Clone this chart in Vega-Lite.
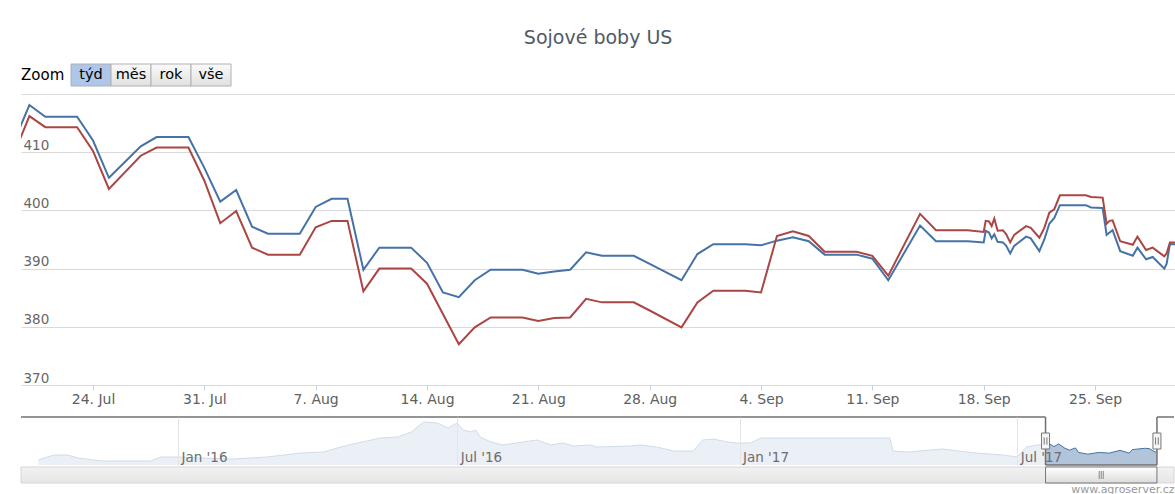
{
  "$schema": "https://vega.github.io/schema/vega-lite/v6.json",
  "background": "white",
  "padding": {"left": 20, "top": 28, "right": 0, "bottom": 0},
  "title": {"text": "Sojové boby US", "anchor": "middle", "fontSize": 19, "font": "DejaVu Sans", "fontWeight": "normal", "color": "#505a66", "baseline": "alphabetic", "offset": 1},
  "config": {"view": {"stroke": null}, "font": "DejaVu Sans", "axis": {"labelFont": "DejaVu Sans", "titleFont": "DejaVu Sans"}},
  "spacing": 7,
  "datasets": {
    "buttons": [
      {"label": "týd", "selected": true},
      {"label": "měs", "selected": false},
      {"label": "rok", "selected": false},
      {"label": "vše", "selected": false}
    ],
    "zoomrange": [{"start": "2017-07-19T11:20", "end": "2017-09-30T02:10", "grip": "2017-08-24T18:45"}],
    "outside": [
      {"from": "2015-09-20T16:00", "to": "2017-07-19T11:20"},
      {"from": "2017-09-30T02:10", "to": "2017-10-11T05:00"}
    ],
    "edges": [{"t": "2017-07-19T11:20"}, {"t": "2017-09-30T02:10"}],
    "history": [
      {"t": "2015-10-02T00:00", "v": 369.4}, {"t": "2015-10-12T00:00", "v": 382.9}, {"t": "2015-10-21T00:00", "v": 382.9},
      {"t": "2015-10-28T00:00", "v": 374.8}, {"t": "2015-11-12T00:00", "v": 366.7}, {"t": "2015-12-14T00:00", "v": 366.7},
      {"t": "2015-12-21T00:00", "v": 377.5}, {"t": "2016-01-01T00:00", "v": 377.5}, {"t": "2016-01-16T00:00", "v": 374.8},
      {"t": "2016-02-06T00:00", "v": 372.1}, {"t": "2016-02-28T00:00", "v": 377.5}, {"t": "2016-03-10T00:00", "v": 382.9},
      {"t": "2016-03-21T00:00", "v": 388.3}, {"t": "2016-04-05T00:00", "v": 391.0}, {"t": "2016-04-16T00:00", "v": 404.5},
      {"t": "2016-04-27T00:00", "v": 415.3}, {"t": "2016-05-12T00:00", "v": 428.8}, {"t": "2016-05-23T00:00", "v": 431.5},
      {"t": "2016-06-01T00:00", "v": 445.0}, {"t": "2016-06-09T00:00", "v": 472.0}, {"t": "2016-06-18T00:00", "v": 469.3},
      {"t": "2016-06-25T00:00", "v": 455.8}, {"t": "2016-07-01T00:00", "v": 469.3}, {"t": "2016-07-05T00:00", "v": 450.4},
      {"t": "2016-07-10T00:00", "v": 445.0}, {"t": "2016-07-13T00:00", "v": 450.4}, {"t": "2016-07-16T00:00", "v": 431.5},
      {"t": "2016-07-23T00:00", "v": 418.0}, {"t": "2016-07-31T00:00", "v": 409.9}, {"t": "2016-08-13T00:00", "v": 418.0},
      {"t": "2016-08-22T00:00", "v": 423.4}, {"t": "2016-08-31T00:00", "v": 409.9}, {"t": "2016-09-08T00:00", "v": 415.3},
      {"t": "2016-09-15T00:00", "v": 407.2}, {"t": "2016-09-26T00:00", "v": 409.9}, {"t": "2016-09-30T00:00", "v": 404.5},
      {"t": "2016-10-22T00:00", "v": 407.2}, {"t": "2016-10-28T00:00", "v": 409.9}, {"t": "2016-11-08T00:00", "v": 404.5},
      {"t": "2016-11-19T00:00", "v": 393.7}, {"t": "2016-12-02T00:00", "v": 393.7}, {"t": "2016-12-08T00:00", "v": 423.4},
      {"t": "2016-12-15T00:00", "v": 426.1}, {"t": "2016-12-24T00:00", "v": 418.0}, {"t": "2016-12-31T00:00", "v": 415.3},
      {"t": "2017-01-08T00:00", "v": 415.3}, {"t": "2017-01-15T00:00", "v": 428.8}, {"t": "2017-04-03T00:00", "v": 428.8},
      {"t": "2017-04-09T00:00", "v": 428.8}, {"t": "2017-04-11T00:00", "v": 393.7}, {"t": "2017-04-21T00:00", "v": 391.0},
      {"t": "2017-05-13T00:00", "v": 399.1}, {"t": "2017-06-04T00:00", "v": 388.3}, {"t": "2017-06-22T00:00", "v": 382.9},
      {"t": "2017-07-01T00:00", "v": 377.5}, {"t": "2017-07-07T00:00", "v": 404.5}, {"t": "2017-07-14T00:00", "v": 409.9},
      {"t": "2017-07-19T00:00", "v": 411.6}, {"t": "2017-07-20T00:00", "v": 418.1}, {"t": "2017-07-25T00:00", "v": 405.6},
      {"t": "2017-07-28T00:00", "v": 412.6}, {"t": "2017-08-01T00:00", "v": 401.5}, {"t": "2017-08-04T00:00", "v": 396.0},
      {"t": "2017-08-08T00:00", "v": 402.0}, {"t": "2017-08-10T00:00", "v": 389.8}, {"t": "2017-08-16T00:00", "v": 385.1},
      {"t": "2017-08-23T00:00", "v": 389.8}, {"t": "2017-08-30T00:00", "v": 388.0}, {"t": "2017-09-06T00:00", "v": 395.4},
      {"t": "2017-09-12T00:00", "v": 388.0}, {"t": "2017-09-14T00:00", "v": 397.4}, {"t": "2017-09-22T00:00", "v": 400.9},
      {"t": "2017-09-25T00:00", "v": 400.4}, {"t": "2017-09-29T00:00", "v": 390.8}, {"t": "2017-09-30T00:00", "v": 394.2}
    ],
    "prices": [
      {"t": "2017-07-19T00:00", "s": "A", "v": 411.6}, {"t": "2017-07-19T00:00", "s": "B", "v": 409.5},
      {"t": "2017-07-20T00:00", "s": "A", "v": 418.1}, {"t": "2017-07-20T00:00", "s": "B", "v": 416.2},
      {"t": "2017-07-21T00:00", "s": "A", "v": 416.1}, {"t": "2017-07-21T00:00", "s": "B", "v": 414.3},
      {"t": "2017-07-22T00:00", "s": "A", "v": 416.1}, {"t": "2017-07-22T00:00", "s": "B", "v": 414.3},
      {"t": "2017-07-23T00:00", "s": "A", "v": 416.1}, {"t": "2017-07-23T00:00", "s": "B", "v": 414.3},
      {"t": "2017-07-24T00:00", "s": "A", "v": 412.0}, {"t": "2017-07-24T00:00", "s": "B", "v": 410.2},
      {"t": "2017-07-25T00:00", "s": "A", "v": 405.6}, {"t": "2017-07-25T00:00", "s": "B", "v": 403.7},
      {"t": "2017-07-27T00:00", "s": "A", "v": 411.0}, {"t": "2017-07-27T00:00", "s": "B", "v": 409.4},
      {"t": "2017-07-28T00:00", "s": "A", "v": 412.6}, {"t": "2017-07-28T00:00", "s": "B", "v": 410.8},
      {"t": "2017-07-29T00:00", "s": "A", "v": 412.6}, {"t": "2017-07-29T00:00", "s": "B", "v": 410.8},
      {"t": "2017-07-30T00:00", "s": "A", "v": 412.6}, {"t": "2017-07-30T00:00", "s": "B", "v": 410.8},
      {"t": "2017-07-31T00:00", "s": "A", "v": 407.3}, {"t": "2017-07-31T00:00", "s": "B", "v": 405.1},
      {"t": "2017-08-01T00:00", "s": "A", "v": 401.5}, {"t": "2017-08-01T00:00", "s": "B", "v": 397.8},
      {"t": "2017-08-02T00:00", "s": "A", "v": 403.5}, {"t": "2017-08-02T00:00", "s": "B", "v": 399.9},
      {"t": "2017-08-03T00:00", "s": "A", "v": 397.2}, {"t": "2017-08-03T00:00", "s": "B", "v": 393.6},
      {"t": "2017-08-04T00:00", "s": "A", "v": 396.0}, {"t": "2017-08-04T00:00", "s": "B", "v": 392.4},
      {"t": "2017-08-05T00:00", "s": "A", "v": 396.0}, {"t": "2017-08-05T00:00", "s": "B", "v": 392.4},
      {"t": "2017-08-06T00:00", "s": "A", "v": 396.0}, {"t": "2017-08-06T00:00", "s": "B", "v": 392.4},
      {"t": "2017-08-07T00:00", "s": "A", "v": 400.6}, {"t": "2017-08-07T00:00", "s": "B", "v": 397.1},
      {"t": "2017-08-08T00:00", "s": "A", "v": 402.0}, {"t": "2017-08-08T00:00", "s": "B", "v": 398.2},
      {"t": "2017-08-09T00:00", "s": "A", "v": 402.0}, {"t": "2017-08-09T00:00", "s": "B", "v": 398.2},
      {"t": "2017-08-10T00:00", "s": "A", "v": 389.8}, {"t": "2017-08-10T00:00", "s": "B", "v": 386.1},
      {"t": "2017-08-11T00:00", "s": "A", "v": 393.6}, {"t": "2017-08-11T00:00", "s": "B", "v": 390.0},
      {"t": "2017-08-12T00:00", "s": "A", "v": 393.6}, {"t": "2017-08-12T00:00", "s": "B", "v": 390.0},
      {"t": "2017-08-13T00:00", "s": "A", "v": 393.6}, {"t": "2017-08-13T00:00", "s": "B", "v": 390.0},
      {"t": "2017-08-14T00:00", "s": "A", "v": 391.0}, {"t": "2017-08-14T00:00", "s": "B", "v": 387.4},
      {"t": "2017-08-15T00:00", "s": "A", "v": 385.9}, {"t": "2017-08-15T00:00", "s": "B", "v": 382.2},
      {"t": "2017-08-16T00:00", "s": "A", "v": 385.1}, {"t": "2017-08-16T00:00", "s": "B", "v": 377.0},
      {"t": "2017-08-17T00:00", "s": "A", "v": 388.0}, {"t": "2017-08-17T00:00", "s": "B", "v": 379.9},
      {"t": "2017-08-18T00:00", "s": "A", "v": 389.8}, {"t": "2017-08-18T00:00", "s": "B", "v": 381.6},
      {"t": "2017-08-19T00:00", "s": "A", "v": 389.8}, {"t": "2017-08-19T00:00", "s": "B", "v": 381.6},
      {"t": "2017-08-20T00:00", "s": "A", "v": 389.8}, {"t": "2017-08-20T00:00", "s": "B", "v": 381.6},
      {"t": "2017-08-21T00:00", "s": "A", "v": 389.1}, {"t": "2017-08-21T00:00", "s": "B", "v": 381.0},
      {"t": "2017-08-22T00:00", "s": "A", "v": 389.5}, {"t": "2017-08-22T00:00", "s": "B", "v": 381.5},
      {"t": "2017-08-23T00:00", "s": "A", "v": 389.8}, {"t": "2017-08-23T00:00", "s": "B", "v": 381.6},
      {"t": "2017-08-24T00:00", "s": "A", "v": 392.8}, {"t": "2017-08-24T00:00", "s": "B", "v": 384.8},
      {"t": "2017-08-25T00:00", "s": "A", "v": 392.2}, {"t": "2017-08-25T00:00", "s": "B", "v": 384.2},
      {"t": "2017-08-26T00:00", "s": "A", "v": 392.2}, {"t": "2017-08-26T00:00", "s": "B", "v": 384.2},
      {"t": "2017-08-27T00:00", "s": "A", "v": 392.2}, {"t": "2017-08-27T00:00", "s": "B", "v": 384.2},
      {"t": "2017-08-28T00:00", "s": "A", "v": 390.8}, {"t": "2017-08-28T00:00", "s": "B", "v": 382.8},
      {"t": "2017-08-30T00:00", "s": "A", "v": 388.0}, {"t": "2017-08-30T00:00", "s": "B", "v": 379.9},
      {"t": "2017-08-31T00:00", "s": "A", "v": 392.5}, {"t": "2017-08-31T00:00", "s": "B", "v": 384.2},
      {"t": "2017-09-01T00:00", "s": "A", "v": 394.2}, {"t": "2017-09-01T00:00", "s": "B", "v": 386.2},
      {"t": "2017-09-02T00:00", "s": "A", "v": 394.2}, {"t": "2017-09-02T00:00", "s": "B", "v": 386.2},
      {"t": "2017-09-03T00:00", "s": "A", "v": 394.2}, {"t": "2017-09-03T00:00", "s": "B", "v": 386.2},
      {"t": "2017-09-04T00:00", "s": "A", "v": 394.0}, {"t": "2017-09-04T00:00", "s": "B", "v": 385.9},
      {"t": "2017-09-05T00:00", "s": "A", "v": 394.8}, {"t": "2017-09-05T00:00", "s": "B", "v": 395.6},
      {"t": "2017-09-06T00:00", "s": "A", "v": 395.4}, {"t": "2017-09-06T00:00", "s": "B", "v": 396.4},
      {"t": "2017-09-07T00:00", "s": "A", "v": 394.7}, {"t": "2017-09-07T00:00", "s": "B", "v": 395.6},
      {"t": "2017-09-08T00:00", "s": "A", "v": 392.4}, {"t": "2017-09-08T00:00", "s": "B", "v": 392.9},
      {"t": "2017-09-09T00:00", "s": "A", "v": 392.4}, {"t": "2017-09-09T00:00", "s": "B", "v": 392.9},
      {"t": "2017-09-10T00:00", "s": "A", "v": 392.4}, {"t": "2017-09-10T00:00", "s": "B", "v": 392.9},
      {"t": "2017-09-11T00:00", "s": "A", "v": 391.7}, {"t": "2017-09-11T00:00", "s": "B", "v": 392.2},
      {"t": "2017-09-12T00:00", "s": "A", "v": 388.0}, {"t": "2017-09-12T00:00", "s": "B", "v": 388.8},
      {"t": "2017-09-14T00:00", "s": "A", "v": 397.4}, {"t": "2017-09-14T00:00", "s": "B", "v": 399.4},
      {"t": "2017-09-15T00:00", "s": "A", "v": 394.7}, {"t": "2017-09-15T00:00", "s": "B", "v": 396.6},
      {"t": "2017-09-16T00:00", "s": "A", "v": 394.7}, {"t": "2017-09-16T00:00", "s": "B", "v": 396.6},
      {"t": "2017-09-17T00:00", "s": "A", "v": 394.7}, {"t": "2017-09-17T00:00", "s": "B", "v": 396.6},
      {"t": "2017-09-18T00:00", "s": "A", "v": 394.5}, {"t": "2017-09-18T00:00", "s": "B", "v": 396.3},
      {"t": "2017-09-18T03:00", "s": "A", "v": 396.5}, {"t": "2017-09-18T03:00", "s": "B", "v": 398.2},
      {"t": "2017-09-18T08:00", "s": "A", "v": 396.2}, {"t": "2017-09-18T08:00", "s": "B", "v": 398.1},
      {"t": "2017-09-18T12:00", "s": "A", "v": 395.2}, {"t": "2017-09-18T12:00", "s": "B", "v": 397.3},
      {"t": "2017-09-18T16:00", "s": "A", "v": 395.9}, {"t": "2017-09-18T16:00", "s": "B", "v": 398.6},
      {"t": "2017-09-18T21:00", "s": "A", "v": 394.6}, {"t": "2017-09-18T21:00", "s": "B", "v": 396.5},
      {"t": "2017-09-19T05:00", "s": "A", "v": 394.5}, {"t": "2017-09-19T05:00", "s": "B", "v": 396.6},
      {"t": "2017-09-19T10:00", "s": "A", "v": 393.9}, {"t": "2017-09-19T10:00", "s": "B", "v": 395.9},
      {"t": "2017-09-19T16:00", "s": "A", "v": 392.6}, {"t": "2017-09-19T16:00", "s": "B", "v": 394.5},
      {"t": "2017-09-19T22:00", "s": "A", "v": 393.9}, {"t": "2017-09-19T22:00", "s": "B", "v": 395.8},
      {"t": "2017-09-20T16:00", "s": "A", "v": 395.5}, {"t": "2017-09-20T16:00", "s": "B", "v": 397.3},
      {"t": "2017-09-20T23:00", "s": "A", "v": 395.2}, {"t": "2017-09-20T23:00", "s": "B", "v": 397.0},
      {"t": "2017-09-21T12:00", "s": "A", "v": 393.0}, {"t": "2017-09-21T12:00", "s": "B", "v": 395.3},
      {"t": "2017-09-21T19:30", "s": "A", "v": 395.0}, {"t": "2017-09-21T19:30", "s": "B", "v": 397.0},
      {"t": "2017-09-22T03:00", "s": "A", "v": 397.7}, {"t": "2017-09-22T03:00", "s": "B", "v": 399.6},
      {"t": "2017-09-22T10:30", "s": "A", "v": 398.7}, {"t": "2017-09-22T10:30", "s": "B", "v": 400.2},
      {"t": "2017-09-22T19:00", "s": "A", "v": 400.9}, {"t": "2017-09-22T19:00", "s": "B", "v": 402.6},
      {"t": "2017-09-24T10:00", "s": "A", "v": 400.9}, {"t": "2017-09-24T10:00", "s": "B", "v": 402.6},
      {"t": "2017-09-24T18:00", "s": "A", "v": 400.5}, {"t": "2017-09-24T18:00", "s": "B", "v": 402.3},
      {"t": "2017-09-25T11:30", "s": "A", "v": 400.4}, {"t": "2017-09-25T11:30", "s": "B", "v": 402.2},
      {"t": "2017-09-25T17:30", "s": "A", "v": 395.8}, {"t": "2017-09-25T17:30", "s": "B", "v": 397.7},
      {"t": "2017-09-25T22:00", "s": "A", "v": 396.2}, {"t": "2017-09-25T22:00", "s": "B", "v": 398.2},
      {"t": "2017-09-26T02:30", "s": "A", "v": 396.6}, {"t": "2017-09-26T02:30", "s": "B", "v": 398.3},
      {"t": "2017-09-26T14:00", "s": "A", "v": 393.0}, {"t": "2017-09-26T14:00", "s": "B", "v": 394.7},
      {"t": "2017-09-27T09:00", "s": "A", "v": 392.2}, {"t": "2017-09-27T09:00", "s": "B", "v": 394.1},
      {"t": "2017-09-27T16:00", "s": "A", "v": 393.6}, {"t": "2017-09-27T16:00", "s": "B", "v": 395.5},
      {"t": "2017-09-28T05:00", "s": "A", "v": 391.6}, {"t": "2017-09-28T05:00", "s": "B", "v": 393.2},
      {"t": "2017-09-28T15:00", "s": "A", "v": 392.0}, {"t": "2017-09-28T15:00", "s": "B", "v": 393.6},
      {"t": "2017-09-29T08:30", "s": "A", "v": 390.0}, {"t": "2017-09-29T08:30", "s": "B", "v": 392.1},
      {"t": "2017-09-29T12:00", "s": "A", "v": 390.8}, {"t": "2017-09-29T12:00", "s": "B", "v": 392.6},
      {"t": "2017-09-29T17:00", "s": "A", "v": 394.2}, {"t": "2017-09-29T17:00", "s": "B", "v": 394.5},
      {"t": "2017-09-30T06:00", "s": "A", "v": 394.2}, {"t": "2017-09-30T06:00", "s": "B", "v": 394.5}
    ]
  },
  "vconcat": [
    {
      "width": 210,
      "height": 22,
      "layer": [
        {
          "data": {"name": "buttons"},
          "mark": {"type": "rect", "stroke": "#b0b0b0", "strokeWidth": 1},
          "encoding": {
            "x": {"field": "label", "type": "nominal", "scale": {"domain": ["Zoom", "týd", "měs", "rok", "vše"], "paddingInner": 0, "paddingOuter": 0.125, "align": 1}, "axis": null},
            "fill": {"condition": {"test": "datum.selected", "value": "#aec6ea"}, "value": {"gradient": "linear", "x1": 0, "y1": 0, "x2": 0, "y2": 1, "stops": [{"offset": 0, "color": "#fbfbfb"}, {"offset": 1, "color": "#e0e0e0"}]}}
          }
        },
        {
          "data": {"name": "buttons"},
          "mark": {"type": "text", "fontSize": 14.5, "color": "#000000", "baseline": "middle"},
          "encoding": {
            "x": {"field": "label", "type": "nominal"},
            "text": {"field": "label"}
          }
        },
        {
          "data": {"values": [{"label": "Zoom"}]},
          "mark": {"type": "text", "fontSize": 15, "color": "#000000", "align": "left", "baseline": "middle", "dx": -30},
          "encoding": {
            "x": {"field": "label", "type": "nominal"},
            "text": {"field": "label"}
          }
        }
      ]
    },
    {
      "width": 1155,
      "height": 291,
      "data": {"name": "prices"},
      "mark": {"type": "line", "strokeWidth": 2, "clip": true},
      "encoding": {
        "x": {
          "field": "t", "type": "temporal",
          "scale": {"domain": [{"year": 2017, "month": 7, "date": 19, "hours": 11, "minutes": 20}, {"year": 2017, "month": 9, "date": 30, "hours": 2, "minutes": 10}]},
          "axis": {
            "values": [
              {"year": 2017, "month": 7, "date": 24}, {"year": 2017, "month": 7, "date": 31},
              {"year": 2017, "month": 8, "date": 7}, {"year": 2017, "month": 8, "date": 14},
              {"year": 2017, "month": 8, "date": 21}, {"year": 2017, "month": 8, "date": 28},
              {"year": 2017, "month": 9, "date": 4}, {"year": 2017, "month": 9, "date": 11},
              {"year": 2017, "month": 9, "date": 18}, {"year": 2017, "month": 9, "date": 25}
            ],
            "format": "%-d. %b", "title": null, "grid": false, "domain": false,
            "ticks": true, "tickColor": "#C0D0E0", "tickSize": 5, "labelPadding": 2,
            "labelFontSize": 14, "labelColor": "#606060", "labelFlush": false, "labelOverlap": false,
            "minExtent": 24
          }
        },
        "y": {
          "field": "v", "type": "quantitative",
          "scale": {"domain": [370, 420], "nice": false, "zero": false},
          "axis": {
            "values": [370, 380, 390, 400, 410, 420],
            "labelExpr": "datum.value >= 420 ? '' : datum.label",
            "title": null, "domain": false, "ticks": false, "tickSize": 0,
            "labelAlign": "left", "labelBaseline": "alphabetic", "labelOffset": -3, "labelPadding": -2,
            "labelFontSize": 13.5, "labelColor": "#666666",
            "grid": true, "gridColor": "#d9d9d9"
          }
        },
        "color": {"field": "s", "type": "nominal", "scale": {"domain": ["A", "B"], "range": ["#4572A7", "#AA4643"]}, "legend": null}
      }
    },
    {
      "spacing": 0,
      "vconcat": [
        {
          "width": 1153,
          "height": 48,
          "layer": [
            {
              "data": {"name": "history"},
              "mark": {"type": "area", "color": "#4572A7", "fillOpacity": 0.42, "line": {"color": "#4572A7", "strokeWidth": 1, "opacity": 1}},
              "encoding": {
                "x": {
                  "field": "t", "type": "temporal",
                  "scale": {"domain": [{"year": 2015, "month": 9, "date": 20, "hours": 16}, {"year": 2017, "month": 10, "date": 11, "hours": 5}]},
                  "axis": {
                    "values": [{"year": 2016, "month": 1, "date": 1}, {"year": 2016, "month": 7, "date": 1}, {"year": 2017, "month": 1, "date": 1}, {"year": 2017, "month": 7, "date": 1}],
                    "format": "%b '%y", "title": null, "domain": false, "ticks": false, "tickSize": 0,
                    "grid": true, "gridColor": "#e4e4e4",
                    "labelAlign": "left", "labelBaseline": "alphabetic", "labelPadding": -4, "labelOffset": 3,
                    "labelFontSize": 13.5, "labelColor": "#6d6d6d", "labelFlush": false,
                    "zindex": 1, "minExtent": 0, "maxExtent": 0
                  }
                },
                "y": {"field": "v", "type": "quantitative", "scale": {"domain": [355.9, 485.5], "nice": false, "zero": false}, "axis": null},
                "y2": {"datum": 355.9}
              }
            },
            {
              "data": {"name": "outside"},
              "mark": {"type": "rect", "fill": "white", "fillOpacity": 0.75},
              "encoding": {
                "x": {"field": "from", "type": "temporal"},
                "x2": {"field": "to"}
              }
            },
            {
              "data": {"name": "outside"},
              "mark": {"type": "rule", "color": "#707070", "strokeWidth": 1.5},
              "encoding": {
                "x": {"field": "from", "type": "temporal"},
                "x2": {"field": "to"},
                "y": {"datum": 485.5}
              }
            },
            {
              "data": {"name": "zoomrange"},
              "mark": {"type": "rule", "color": "#707070", "strokeWidth": 1.5},
              "encoding": {
                "x": {"field": "start", "type": "temporal"},
                "x2": {"field": "end"},
                "y": {"datum": 355.9}
              }
            },
            {
              "data": {"name": "edges"},
              "mark": {"type": "rule", "color": "#707070", "strokeWidth": 1.5},
              "encoding": {
                "x": {"field": "t", "type": "temporal"}
              }
            },
            {
              "data": {"name": "edges"},
              "mark": {"type": "point", "shape": "M-0.5,-1H0.5V1H-0.5Z", "size": 256, "filled": true, "fill": "#f6f6f6", "stroke": "#777777", "strokeWidth": 1, "opacity": 1},
              "encoding": {
                "x": {"field": "t", "type": "temporal"},
                "y": {"datum": 420.7}
              }
            },
            {
              "data": {"name": "edges"},
              "mark": {"type": "point", "shape": "M-0.17,-0.45V0.45M0.17,-0.45V0.45", "size": 256, "filled": false, "stroke": "#777777", "strokeWidth": 1, "opacity": 1},
              "encoding": {
                "x": {"field": "t", "type": "temporal"},
                "y": {"datum": 420.7}
              }
            }
          ]
        },
        {
          "width": 1153,
          "height": 16,
          "data": {"name": "zoomrange"},
          "layer": [
            {
              "mark": {"type": "rect", "stroke": "#d6d6d6", "strokeWidth": 1, "fill": {"gradient": "linear", "x1": 0, "y1": 0, "x2": 0, "y2": 1, "stops": [{"offset": 0, "color": "#f2f2f2"}, {"offset": 1, "color": "#e6e6e6"}]}},
              "encoding": {
                "x": {
                  "datum": {"year": 2015, "month": 9, "date": 20, "hours": 16}, "type": "temporal",
                  "scale": {"domain": [{"year": 2015, "month": 9, "date": 20, "hours": 16}, {"year": 2017, "month": 10, "date": 11, "hours": 5}]},
                  "axis": {"title": "www.agroserver.cz", "titleAnchor": "end", "titleFontSize": 11, "titleFontWeight": "normal", "titleColor": "#999999", "titlePadding": 0, "labels": false, "ticks": false, "domain": false, "grid": false}
                },
                "x2": {"datum": {"year": 2017, "month": 10, "date": 11, "hours": 5}}
              }
            },
            {
              "mark": {"type": "rect", "stroke": "#777777", "strokeWidth": 1, "fill": {"gradient": "linear", "x1": 0, "y1": 0, "x2": 0, "y2": 1, "stops": [{"offset": 0, "color": "#ffffff"}, {"offset": 1, "color": "#dcdcdc"}]}},
              "encoding": {
                "x": {"field": "start", "type": "temporal"},
                "x2": {"field": "end"}
              }
            },
            {
              "mark": {"type": "point", "shape": "M-0.5,-1V1M0,-1V1M0.5,-1V1", "size": 64, "filled": false, "stroke": "#888888", "strokeWidth": 1, "opacity": 1},
              "encoding": {
                "x": {"field": "grip", "type": "temporal"}
              }
            }
          ]
        }
      ]
    }
  ]
}
